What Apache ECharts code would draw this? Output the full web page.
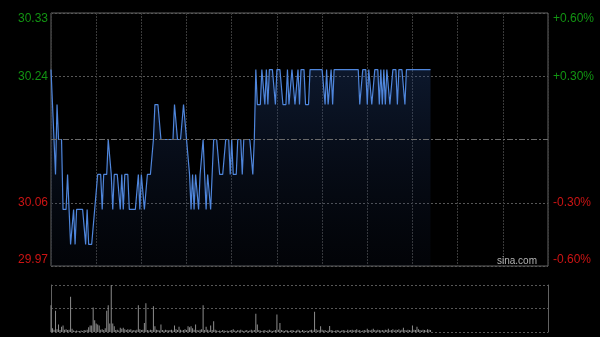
<!DOCTYPE html>
<html>
<head>
<meta charset="utf-8">
<script src="https://cdn.jsdelivr.net/npm/echarts@6/dist/echarts.min.js"></script>
<style>
html,body{margin:0;padding:0;background:#000;}
#c{width:600px;height:337px;}
</style>
</head>
<body>
<div id="c"></div>
<script>
// ---- data ----
const prevClose = 30.15;
const totalMinutes = 330;
const prices = [
30.25,30.20,30.20,30.10,30.20,30.15,30.15,30.15,30.05,30.05,
30.05,30.10,30.05,30.00,30.00,30.05,30.00,30.05,30.05,30.05,
30.05,30.05,30.05,30.00,30.05,30.00,30.00,30.00,30.00,30.05,
30.05,30.10,30.10,30.10,30.05,30.10,30.10,30.10,30.15,30.15,
30.10,30.05,30.10,30.10,30.10,30.10,30.05,30.10,30.05,30.10,
30.10,30.10,30.05,30.05,30.05,30.05,30.05,30.05,30.10,30.05,
30.10,30.10,30.05,30.05,30.10,30.10,30.10,30.10,30.15,30.20,
30.20,30.20,30.20,30.15,30.15,30.15,30.15,30.15,30.15,30.15,
30.15,30.15,30.20,30.20,30.15,30.15,30.15,30.15,30.20,30.20,
30.15,30.15,30.10,30.05,30.10,30.05,30.10,30.10,30.05,30.10,
30.10,30.15,30.15,30.05,30.10,30.10,30.05,30.05,30.15,30.15,
30.15,30.15,30.10,30.10,30.10,30.10,30.15,30.15,30.15,30.10,
30.15,30.10,30.10,30.10,30.15,30.15,30.15,30.10,30.15,30.15,
30.15,30.15,30.15,30.15,30.10,30.15,30.25,30.20,30.20,30.20,
30.25,30.25,30.20,30.25,30.20,30.25,30.25,30.25,30.25,30.20,
30.25,30.25,30.25,30.25,30.20,30.20,30.20,30.25,30.20,30.20,
30.25,30.25,30.20,30.20,30.25,30.20,30.25,30.25,30.25,30.20,
30.20,30.20,30.25,30.25,30.25,30.25,30.25,30.25,30.25,30.25,
30.25,30.25,30.20,30.25,30.20,30.20,30.25,30.20,30.25,30.25,
30.25,30.25,30.25,30.25,30.25,30.25,30.25,30.25,30.25,30.25,
30.25,30.25,30.25,30.25,30.25,30.20,30.20,30.25,30.25,30.25,
30.20,30.25,30.25,30.20,30.20,30.25,30.25,30.25,30.20,30.25,
30.20,30.25,30.20,30.25,30.25,30.20,30.20,30.25,30.25,30.25,
30.20,30.25,30.25,30.25,30.25,30.20,30.25,30.25,30.25,30.25,
30.25,30.25,30.25,30.25,30.25,30.25,30.25,30.25,30.25,30.25,
30.25,30.25,30.25
];
const volumes = [
57,8,5,45,6,16,4,11,14,5,
6,4,5,75,7,3,2,3,2,2,
3,2,4,3,5,10,14,14,52,25,
18,16,14,5,6,4,8,45,57,18,
100,18,12,4,5,3,9,7,9,6,
4,6,5,6,3,4,3,5,57,6,
4,5,19,61,4,3,5,4,55,12,
5,4,3,16,4,3,5,4,3,4,
5,3,14,6,4,11,5,3,4,6,
4,12,10,12,8,5,16,4,3,5,
6,57,4,11,5,3,14,4,23,5,
3,2,3,2,4,3,2,3,2,3,
4,6,3,2,4,3,5,3,2,3,
4,2,3,5,3,4,39,16,4,3,
2,3,4,2,3,5,3,2,3,4,
37,5,19,4,3,2,4,3,2,3,
4,3,2,3,5,3,2,4,3,2,
3,2,4,5,3,43,6,3,4,12,
5,3,4,2,3,13,4,3,2,3,
4,3,2,3,4,3,2,5,3,4,
5,3,4,6,3,4,2,3,4,3,
7,4,3,5,7,4,3,5,4,3,
4,3,5,4,7,3,4,6,3,5,
4,6,3,5,9,4,3,5,4,3,
14,5,4,11,6,4,3,5,4,3,
6,5,4
];
const pctRange = 0.6;
const pctStep = 0.3;

// ---- chart ----
const green = '#129412';
const red = '#cc1414';
const linePts = prices.map((p, i) => [i, (p - prevClose) / prevClose * 100]);
const volPts = volumes.map((v, i) => [i, v]);
const volMax = Math.max.apply(null, volumes);

const chart = echarts.init(document.getElementById('c'), null, {renderer: 'canvas'});
chart.setOption({
  animation: false,
  backgroundColor: '#000',
  grid: [
    {left: 51, top: 13, width: 497, height: 253, show: true, borderColor: '#626262', borderWidth: 1, backgroundColor: 'transparent'},
    {left: 51, top: 285, width: 497, height: 47, show: false}
  ],
  xAxis: [
    {type: 'value', gridIndex: 0, min: 0, max: totalMinutes, interval: 30,
     axisLine: {show: false}, axisTick: {show: false}, axisLabel: {show: false},
     splitLine: {show: true, lineStyle: {color: '#3a3a3a', type: [2, 1], width: 1}}},
    {type: 'value', gridIndex: 1, min: 0, max: totalMinutes, interval: 30,
     axisLine: {show: false}, axisTick: {show: false}, axisLabel: {show: false},
     splitLine: {show: false}}
  ],
  yAxis: [
    {type: 'value', gridIndex: 0, position: 'left', min: -pctRange, max: pctRange, interval: pctStep,
     axisLine: {show: false}, axisTick: {show: false},
     axisLabel: {
       margin: 3, fontSize: 12, fontFamily: 'Liberation Sans, Arial, sans-serif',
       verticalAlignMinLabel: 'bottom', verticalAlignMaxLabel: 'top',
       formatter: v => Math.abs(v) < 1e-9 ? '' : (prevClose * (1 + v / 100)).toFixed(2),
       color: v => Number(v) > 0 ? green : red
     },
     splitLine: {show: true, lineStyle: {color: '#575757', type: [2, 2], width: 1}}},
    {type: 'value', gridIndex: 0, position: 'right', min: -pctRange, max: pctRange, interval: pctStep,
     axisLine: {show: false}, axisTick: {show: false},
     axisLabel: {
       margin: 5, fontSize: 12, fontFamily: 'Liberation Sans, Arial, sans-serif',
       verticalAlignMinLabel: 'bottom', verticalAlignMaxLabel: 'top',
       formatter: v => Math.abs(v) < 1e-9 ? '' : (v > 0 ? '+' : '') + Number(v).toFixed(2) + '%',
       color: v => Number(v) > 0 ? green : red
     },
     splitLine: {show: false}},
    {type: 'value', gridIndex: 1, position: 'left', min: 0, max: volMax, interval: volMax / 2,
     axisLine: {show: true, lineStyle: {color: '#626262'}}, axisTick: {show: false}, axisLabel: {show: false},
     splitLine: {show: true, lineStyle: {color: '#575757', type: [2, 2], width: 1}}},
    {type: 'value', gridIndex: 1, position: 'right', min: 0, max: volMax,
     axisLine: {show: true, lineStyle: {color: '#626262'}}, axisTick: {show: false}, axisLabel: {show: false},
     splitLine: {show: false}}
  ],
  series: [
    {type: 'line', xAxisIndex: 0, yAxisIndex: 0, data: linePts, showSymbol: false, symbol: 'none',
     lineStyle: {color: '#4f86dc', width: 1.2},
     areaStyle: {origin: 'start', color: new echarts.graphic.LinearGradient(0, 0, 0, 1, [
       {offset: 0, color: 'rgba(40,75,140,0.45)'},
       {offset: 1, color: 'rgba(20,35,70,0.15)'}
     ])},
     markLine: {silent: true, symbol: 'none', label: {show: false},
       lineStyle: {color: '#6a6a6a', type: [6, 2, 2, 2], width: 1},
       data: [{yAxis: 0}]},
     z: 3},
    {type: 'bar', xAxisIndex: 1, yAxisIndex: 2, data: volPts, barWidth: 1,
     itemStyle: {color: '#8c8c8c'}, large: false}
  ],
  graphic: [
    {type: 'text', right: 63, top: 256, z: 10,
     style: {text: 'sina.com', fill: '#b4b4b4', fontSize: 10, fontFamily: 'Liberation Sans, Arial, sans-serif'}}
  ]
});
</script>
</body>
</html>
